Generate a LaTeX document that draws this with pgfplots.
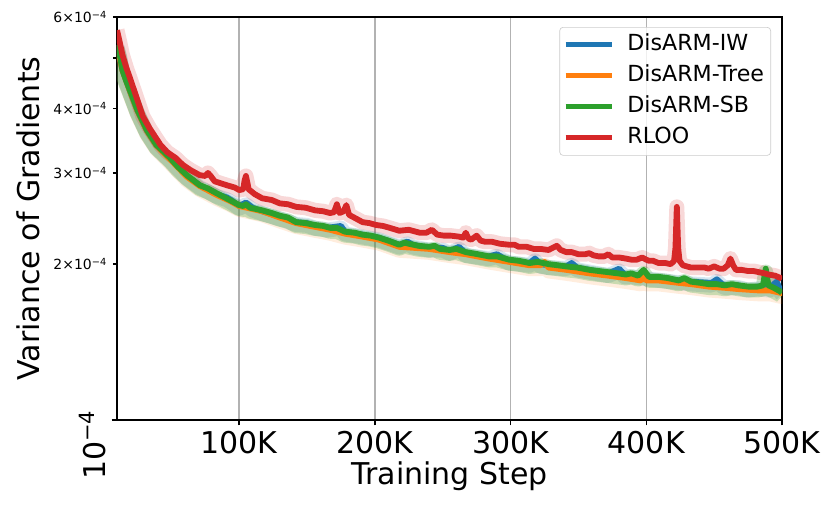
\documentclass[border=0pt]{standalone}
\usepackage{pgfplots}
\pgfplotsset{compat=1.18}
\usepackage{pgfplotstable}
\usepackage{amsmath}
\usepackage{fontspec}
\setmainfont{DejaVu Sans}
\definecolor{tabblue}{HTML}{1F77B4}
\definecolor{taborange}{HTML}{FF7F0E}
\definecolor{tabgreen}{HTML}{2CA02C}
\definecolor{tabred}{HTML}{D62728}

% x in thousands of steps, y in units of 1e-4
\pgfplotstableread{
x y
10 5.66
12 5.37
14 5.07
17 4.78
20 4.54
25 4.15
29 3.86
34 3.66
42 3.40
47 3.29
53 3.21
58.5 3.11
64 3.04
71 2.97
75 2.96
77 3.00
79 2.96
82 2.89
91 2.84
97 2.81
100 2.78
103 2.79
104 2.90
105 2.96
106 2.88
107 2.79
111.5 2.73
117 2.68
124 2.66
130 2.62
136 2.61
142 2.58
149 2.57
156 2.54
162 2.53
167 2.51
170 2.52
172 2.61
174 2.51
177 2.53
179 2.60
181 2.49
186 2.45
191 2.41
196 2.40
201 2.38
206 2.37
211 2.35
218 2.32
225 2.33
233 2.30
238 2.30
242 2.33
246 2.28
251 2.27
256 2.27
262 2.26
265 2.25
267 2.30
269 2.24
271 2.23
275 2.27
278 2.22
281 2.21
286 2.21
292 2.19
299 2.18
303 2.18
306 2.16
312 2.16
317 2.14
322 2.14
328 2.13
331 2.15
334 2.17
337 2.13
341 2.11
345 2.11
350 2.09
355 2.09
358 2.10
361 2.08
365 2.07
369 2.07
372 2.09
375 2.06
380 2.06
385 2.05
389 2.04
393 2.04
397 2.06
400 2.04
402 2.03
405 2.03
409 2.01
414 2.01
418 2.00
420.5 2.03
421.5 2.15
422.5 2.58
423.5 2.15
424.5 2.03
427 1.99
433 1.97
439 1.97
443 1.97
446 1.96
450 1.98
454 1.96
457 1.96
460 1.99
462 2.05
464 1.99
466 1.95
470 1.95
475 1.94
479 1.94
483 1.93
487 1.92
490 1.91
495 1.90
499 1.88
500 1.87
}\redtab

\pgfplotstableread{
x y
10 5.30
12 5.07
14 4.74
17 4.50
20 4.30
25 3.97
32 3.63
39 3.40
49 3.21
55 3.08
61.5 2.97
71 2.84
77 2.80
83.5 2.74
93 2.66
100 2.60
103 2.59
105 2.61
108 2.57
117 2.54
124 2.51
130 2.48
136 2.46
142 2.41
149 2.40
156 2.38
162 2.37
167 2.35
172 2.35
178 2.31
185 2.30
191 2.28
197 2.27
203 2.25
210 2.22
218 2.18
222 2.20
225 2.19
232 2.17
240 2.16
244 2.17
248 2.14
255 2.13
260 2.14
267 2.11
276 2.09
284 2.07
290 2.07
299 2.04
306 2.03
314 2.01
320 2.02
328 2.00
335 1.99
341 1.98
349 1.97
358 1.95
365 1.94
372 1.93
379 1.92
385 1.91
389 1.92
394 1.90
398 1.95
402 1.89
409 1.89
416 1.88
424 1.86
428 1.88
433 1.85
440 1.84
446 1.83
452 1.83
458 1.82
463 1.83
468 1.82
475 1.81
482 1.81
486 1.82
488 1.96
490 1.82
494 1.80
499 1.77
500 1.76
}\greentab

\pgfplotstableread{
x y
10 5.30
12 5.07
14 4.74
20 4.29
25 3.96
32 3.62
39 3.39
49 3.20
61.5 2.96
71 2.84
83.5 2.73
91 2.69
95 2.65
100 2.59
105 2.63
110 2.57
117 2.53
130 2.47
142 2.41
150 2.40
156 2.37
165 2.35
175 2.37
178 2.31
191 2.28
203 2.25
218 2.18
224 2.21
228 2.18
240 2.15
250 2.15
255 2.12
262 2.16
267 2.10
284 2.07
290 2.09
294 2.06
299 2.03
314 2.01
318 2.05
322 2.00
328 1.99
341 1.98
345 2.01
349 1.97
358 1.95
372 1.92
380 1.96
384 1.91
389 1.91
402 1.89
409 1.88
424 1.86
433 1.85
448 1.84
452 1.87
456 1.83
458 1.82
468 1.82
475 1.80
482 1.81
491 1.80
496 1.85
499 1.78
500 1.77
}\bluetab

\pgfplotstableread{
x y
10 5.30
14 4.74
20 4.29
25 3.96
32 3.62
39 3.39
49 3.19
61.5 2.95
71 2.83
83.5 2.72
93 2.65
100 2.59
117 2.53
130 2.46
142 2.40
156 2.36
167 2.33
178 2.29
191 2.26
203 2.23
218 2.16
240 2.14
255 2.11
267 2.09
284 2.05
299 2.02
314 1.99
322 1.99
325 2.02
328 1.97
341 1.95
358 1.92
372 1.90
385 1.88
396 1.86
398 1.89
400 1.86
409 1.86
424 1.84
433 1.83
446 1.81
458 1.80
468 1.79
482 1.78
491 1.78
499 1.76
500 1.76
}\orangetab

\begin{document}
\begin{tikzpicture}
\useasboundingbox (-70.2pt,-51.6pt) rectangle (428.4pt,252pt);
\begin{axis}[
  scale only axis,
  width=399pt, height=241.8pt,
  xmin=10, xmax=500,
  ymode=log, ymin=1e-4, ymax=6e-4,
  axis line style={line width=0.8pt, black},
  tick align=outside,
  xtick pos=bottom, ytick pos=left,
  tick style={black, line width=0.8pt},
  major tick length=3.2pt,
  minor tick length=2.4pt,
  xtick={100,200,300,400,500},
  xticklabels={100K,200K,300K,400K,500K},
  ytick={1e-4},
  yticklabels={\raisebox{\dimexpr 6pt-\height\relax}[0pt][0pt]{\rotatebox{90}{10$^{\text{−4}}$}}},
  minor ytick={5e-4},
  extra y ticks={2e-4,3e-4,4e-4,6e-4},
  extra y tick labels={2×10$^{\text{−4}}$,3×10$^{\text{−4}}$,4×10$^{\text{−4}}$,6×10$^{\text{−4}}$},
  extra y tick style={major tick length=2.4pt, ytick pos=left, yticklabel style={font=\fontsize{8.4}{10}\selectfont}},
  /pgf/number format/assume math mode=true,
  tick label style={font=\fontsize{18}{21}\selectfont},
  xmajorgrids, ymajorgrids=false,
  major grid style={color=black!30, line width=0.8pt},
  xlabel={Training Step},
  ylabel={Variance of Gradients},
  label style={font=\fontsize{18}{21}\selectfont},
  xlabel style={at={(axis description cs:0.5,-0.139)}, anchor=center},
  ylabel style={at={(axis description cs:-0.134,0.5)}, anchor=center},
  legend style={at={(1,1)}, anchor=north east, xshift=-6.6pt, yshift=-6pt,
    draw=black!20, rounded corners=2pt, fill=white, fill opacity=0.8, text opacity=1,
    font=\fontsize{13.3}{15}\selectfont, row sep=1.6pt, inner sep=2pt,
    nodes={inner sep=2pt, text height=10pt, text depth=3pt},
    /tikz/every odd column/.append style={column sep=5.6pt}},
  legend cell align=left,
  legend image code/.code={\draw[#1] (0pt,0pt) -- (28pt,0pt);},
]
% bands
\addplot[forget plot, tabblue, opacity=0.18, line width=9pt, line join=round] table[x=x, y expr=\thisrow{y}*0.99e-4] {\bluetab};
\addplot[forget plot, taborange, opacity=0.14, line width=9pt, line join=round] table[x=x, y expr=\thisrow{y}*0.985e-4] {\orangetab};
\addplot[forget plot, tabgreen, opacity=0.25, line width=9pt, line join=round] table[x=x, y expr=\thisrow{y}*0.985e-4] {\greentab};
\addplot[forget plot, tabred, opacity=0.18, line width=9pt, line join=round] table[x=x, y expr=\thisrow{y}*1e-4] {\redtab};
% centre lines
\addplot[forget plot, tabblue, line width=3.5pt, line join=round] table[x=x, y expr=\thisrow{y}*1e-4] {\bluetab};
\addplot[forget plot, taborange, line width=3.5pt, line join=round] table[x=x, y expr=\thisrow{y}*1e-4] {\orangetab};
\addplot[forget plot, tabgreen, line width=3.5pt, line join=round] table[x=x, y expr=\thisrow{y}*1e-4] {\greentab};
\addplot[forget plot, tabred, line width=3.5pt, line join=round] table[x=x, y expr=\thisrow{y}*1e-4] {\redtab};
\addlegendimage{tabblue, line width=3pt}
\addlegendentry{DisARM-IW}
\addlegendimage{taborange, line width=3pt}
\addlegendentry{DisARM-Tree}
\addlegendimage{tabgreen, line width=3pt}
\addlegendentry{DisARM-SB}
\addlegendimage{tabred, line width=3pt}
\addlegendentry{RLOO}
\end{axis}
\end{tikzpicture}
\end{document}
